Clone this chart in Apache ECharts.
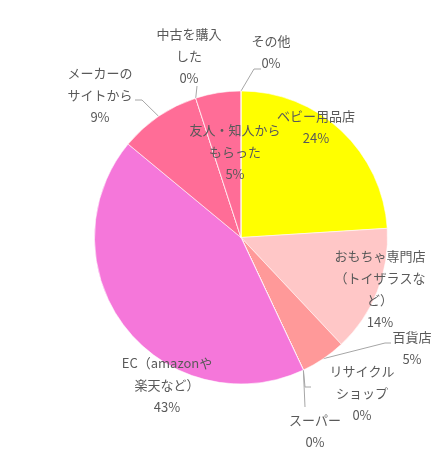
<!DOCTYPE html>
<html>
<head>
<meta charset="utf-8">
<script src="https://cdn.jsdelivr.net/npm/echarts@6/dist/echarts.min.js"></script>
<style>
  html, body { margin: 0; padding: 0; background: #fff; }
  #chart { width: 446px; height: 453px; }
</style>
</head>
<body>
<div id="chart"></div>
<script>
// categories in clockwise order from 12 o'clock, '\n' = where the label wraps
var categories = [
    'ベビー用品店',
    'おもちゃ専門店\n（トイザラスな\nど）',
    '百貨店',
    'リサイクル\nショップ',
    'スーパー',
    'EC（amazonや\n楽天など）',
    'メーカーの\nサイトから',
    '中古を購入\nした',
    '友人・知人から\nもらった',
    'その他'
];
var shares = [24, 14, 5, 0, 0, 43, 9, 0, 5, 0];
var colors = ['#FFFF00', '#FFC7C7', '#FF9999', '#FF9999', '#FF9999', '#F577DA', '#FF6D97', '#FF6D97', '#FF6D97', '#FF6D97'];

// label centres and leader-line bends, by data index
var labelPos = {
    0: [316, 127], 1: [380, 289], 2: [412, 348], 3: [362, 393], 4: [315, 431],
    5: [167, 385], 6: [100, 95], 7: [189, 56], 8: [235, 152], 9: [271, 52]
};
var leaderBends = {
    2: [[385, 343], [391, 343]],
    3: [[305, 387], [311, 387]],
    4: [[305, 407]],
    6: [[142, 100], [135, 100]],
    7: [[197, 86]],
    9: [[254, 69], [261, 69]]
};

var myChart = echarts.init(document.getElementById('chart'));

var data = [];
for (var i = 0; i < categories.length; i++) {
    data.push({
        name: categories[i],
        value: shares[i],
        itemStyle: {color: colors[i]},
        labelLine: {show: leaderBends[i] !== undefined}
    });
}

var option = {
    animation: false,
    series: [
        {
            type: 'pie',
            center: [241, 237.5],
            radius: 146.5,
            startAngle: 90,
            clockwise: true,
            avoidLabelOverlap: false,
            minShowLabelAngle: 0,
            data: data,
            itemStyle: {borderColor: 'rgba(255,255,255,0.8)', borderWidth: 0.7},
            label: {
                show: true,
                position: 'outside',
                color: '#595959',
                fontFamily: 'Noto Sans CJK JP',
                fontSize: 13,
                lineHeight: 22,
                align: 'center',
                formatter: function (p) {
                    return p.name + '\n' + Math.round(p.percent) + '%';
                }
            },
            labelLine: {
                lineStyle: {color: '#A6A6A6', width: 1}
            },
            emphasis: {disabled: true}
        }
    ]
};
option.series[0].labelLayout = function (params) {
    var i = params.dataIndex;
    var out = {
        x: labelPos[i][0],
        y: labelPos[i][1],
        align: 'center',
        verticalAlign: 'middle'
    };
    if (leaderBends[i] && params.labelLinePoints) {
        out.labelLinePoints = [params.labelLinePoints[0]].concat(leaderBends[i]);
    }
    return out;
};
myChart.setOption(option);
</script>
</body>
</html>
